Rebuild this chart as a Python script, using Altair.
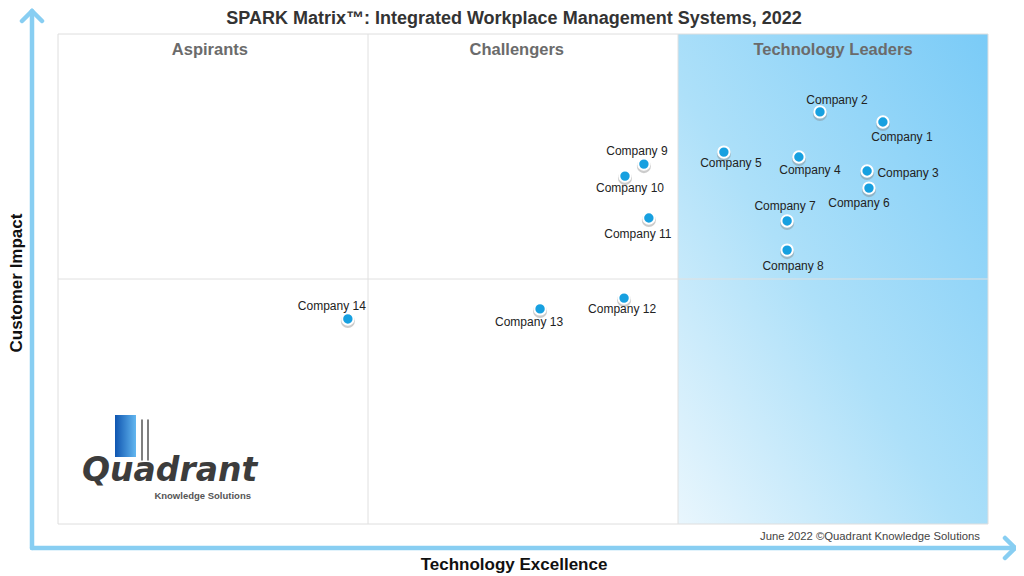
import altair as alt
import pandas as pd

# ---------------- data ----------------
companies = ["Company 1", "Company 2", "Company 3", "Company 4", "Company 5",
             "Company 6", "Company 7", "Company 8", "Company 9", "Company 10",
             "Company 11", "Company 12", "Company 13", "Company 14"]
technology_excellence = [2.661, 2.458, 2.610, 2.390, 2.148, 2.616, 2.352,
                         2.352, 1.890, 1.829, 1.906, 1.826, 1.555, 0.935]
customer_impact = [1.641, 1.682, 1.441, 1.498, 1.518, 1.371, 1.237,
                   1.118, 1.469, 1.420, 1.249, 0.922, 0.878, 0.837]
quadrant_names = ["Aspirants", "Challengers", "Technology Leaders"]
quadrant_centers = [0.49, 1.48, 2.5]

# label placement (pixel offsets from each dot)
label_dx = [19, 17, 41, 11, 7, -10, -2, 6, -7, 5, -11, -2, -11, -16]
label_dy = [15, -12, 2, 13, 11, 15, -15, 16, -13, 12, 16, 11, 13, -13]

PX_X = 310.0  # pixels per x unit
PX_Y = 245.0  # pixels per y unit

FONT = "Liberation Sans"

df = pd.DataFrame({
    "company": companies,
    "x": technology_excellence,
    "y": customer_impact,
})
df["lx"] = [x + dx / PX_X for x, dx in zip(technology_excellence, label_dx)]
df["ly"] = [y - dy / PX_Y for y, dy in zip(customer_impact, label_dy)]

xs = alt.Scale(domain=[0, 3], range=[50, 980], nice=False, zero=False)
ys = alt.Scale(domain=[0, 2], range=[516, 26], nice=False, zero=False)

one = pd.DataFrame({"a": [0]})

# leaders gradient region
leaders = alt.Chart(pd.DataFrame({"x": [2], "x2": [3], "y": [0], "y2": [2]})).mark_rect(
    fill={"gradient": "linear", "x1": 0, "y1": 1, "x2": 1, "y2": 0,
          "stops": [{"offset": 0, "color": "#e9f6fd"},
                    {"offset": 0.45, "color": "#ade0f9"},
                    {"offset": 1, "color": "#7acbf7"}]},
).encode(
    x=alt.X("x:Q", scale=xs, axis=None), x2="x2:Q",
    y=alt.Y("y:Q", scale=ys, axis=None), y2="y2:Q",
)

frame = alt.Chart(pd.DataFrame({"x": [0], "x2": [3], "y": [0], "y2": [2]})).mark_rect(
    fill=None, stroke="#dedede", strokeWidth=1,
).encode(
    x=alt.X("x:Q", scale=xs, axis=None), x2="x2:Q",
    y=alt.Y("y:Q", scale=ys, axis=None), y2="y2:Q",
)

vlines = alt.Chart(pd.DataFrame({"x": [1, 2], "y": [0, 0], "y2": [2, 2]})).mark_rule(
    color="#e0e0e0", strokeWidth=1,
).encode(
    x=alt.X("x:Q", scale=xs, axis=None),
    y=alt.Y("y:Q", scale=ys, axis=None), y2="y2:Q",
)
hline = alt.Chart(pd.DataFrame({"x": [0], "x2": [3], "y": [1]})).mark_rule(
    color="#e0e0e0", strokeWidth=1,
).encode(
    x=alt.X("x:Q", scale=xs, axis=None), x2="x2:Q",
    y=alt.Y("y:Q", scale=ys, axis=None),
)

qlabels = alt.Chart(pd.DataFrame({"name": quadrant_names, "x": quadrant_centers,
                                  "y": [1.935] * 3})).mark_text(
    font=FONT, fontSize=16.5, fontWeight="bold", color="#6b6b6b", baseline="middle",
).encode(
    x=alt.X("x:Q", scale=xs, axis=None),
    y=alt.Y("y:Q", scale=ys, axis=None),
    text="name:N",
)

shadow = alt.Chart(df).mark_circle(size=200, color="#7f7f7f", opacity=0.4, yOffset=2).encode(
    x=alt.X("x:Q", scale=xs, axis=None),
    y=alt.Y("y:Q", scale=ys, axis=None),
)
dots = alt.Chart(df).mark_circle(size=130, color="#17a0e0", opacity=1,
                                 stroke="white", strokeWidth=2).encode(
    x=alt.X("x:Q", scale=xs, axis=None),
    y=alt.Y("y:Q", scale=ys, axis=None),
)
labels = alt.Chart(df).mark_text(font=FONT, fontSize=12, color="#222222",
                                 baseline="middle").encode(
    x=alt.X("lx:Q", scale=xs, axis=None),
    y=alt.Y("ly:Q", scale=ys, axis=None),
    text="company:N",
)

# ---------------- decoration ----------------
ARROW = "#88cef2"


def rule(x, y, x2, y2, color=ARROW, w=4.5):
    return alt.Chart(one).mark_rule(color=color, strokeWidth=w, strokeCap="round").encode(
        x=alt.value(x), y=alt.value(y), x2=alt.value(x2), y2=alt.value(y2))


arrows = [
    rule(24, 4, 24, 540),
    rule(24, 540, 1006, 540),
    rule(24, 3, 14, 13),
    rule(24, 3, 34, 13),
    rule(1007, 540, 997, 530),
    rule(1007, 540, 997, 550),
]


def text(t, x, y, size, weight="normal", color="#222", align="center",
         baseline="middle", angle=0, style="normal", font=FONT):
    kw = dict(text=t, font=font, fontSize=size, fontWeight=weight, color=color,
              align=align, baseline=baseline, fontStyle=style)
    if angle:
        kw["angle"] = angle
    return alt.Chart(one).mark_text(**kw).encode(x=alt.value(x), y=alt.value(y))


title = text("SPARK Matrix\u2122: Integrated Workplace Management Systems, 2022",
             506, 15.5, 18, "bold", "#333333", baseline="alphabetic")
xtitle = text("Technology Excellence", 506, 562, 17, "bold", "#111111",
              baseline="alphabetic")
ytitle = text("Customer Impact", 9, 275, 17, "bold", "#111111", angle=270)
footer = text("June 2022 \u00a9Quadrant Knowledge Solutions", 972, 529, 11.3,
              "normal", "#444444", align="right")

# logo
book = alt.Chart(one).mark_rect(
    fill={"gradient": "linear", "x1": 0, "y1": 0, "x2": 1, "y2": 0,
          "stops": [{"offset": 0, "color": "#0f55b0"},
                    {"offset": 1, "color": "#63b7f0"}]},
).encode(x=alt.value(107), x2=alt.value(128), y=alt.value(407), y2=alt.value(449))
book_l1 = rule(134, 412, 134, 452, "#555555", 1.5)
book_l2 = rule(140, 412, 140, 452, "#555555", 1.5)
logo1 = text("Quadrant", 74, 473, 33, "bold", "#3c3c3c", align="left",
             baseline="alphabetic", style="italic", font="DejaVu Sans")
logo2 = text("Knowledge Solutions", 243, 488, 9.5, "bold", "#555555", align="right")

chart = alt.layer(
    leaders, frame, vlines, hline, qlabels, shadow, dots, labels,
    *arrows, title, xtitle, ytitle, footer, book, book_l1, book_l2, logo1, logo2,
).properties(
    width=1008, height=568, padding=0,
    autosize=alt.AutoSizeParams(type="none"),
    background="white",
).configure_view(stroke=None)

chart.save("out.html", embed_options={"renderer": "svg", "actions": False})
